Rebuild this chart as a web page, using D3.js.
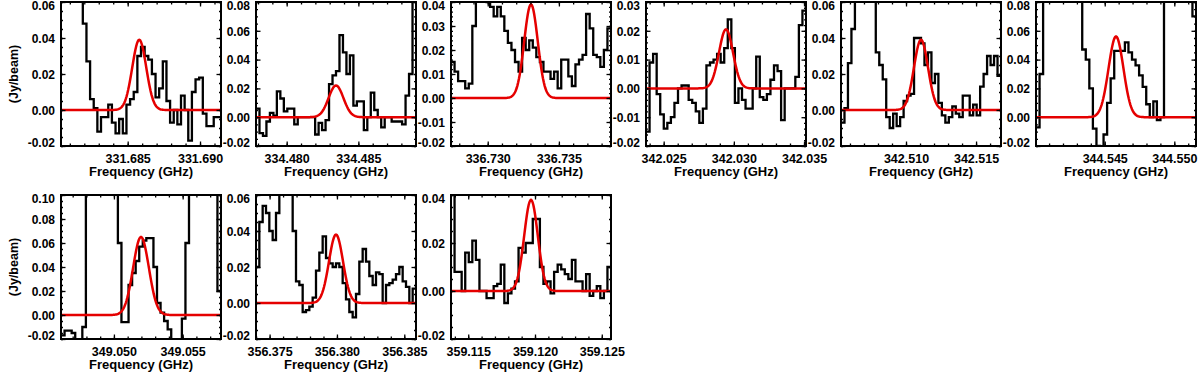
<!DOCTYPE html>
<html>
<head>
<meta charset="utf-8">
<script src="https://cdn.jsdelivr.net/npm/d3@7"></script>
<style>
    body { margin:0; background:#fff; }
    svg text { font-family:"Liberation Sans", Arial, Helvetica, sans-serif; font-weight:bold; fill:#000; }
</style>
</head>
<body>
<svg id="chart" width="1200" height="378"></svg>
<script>
//DATA
//frequency window of each panel (GHz)
const freqMin = [331.68039, 334.47786, 336.72742, 342.02374, 342.50536, 344.54006, 349.04615, 356.37399, 359.11371];
const freqMax = [331.69145, 334.48902, 336.73866, 342.03514, 342.51678, 344.55156, 349.05779, 356.38587, 359.12569];
const xTicks = [
    [331.685, 331.690],
    [334.480, 334.485],
    [336.730, 336.735],
    [342.025, 342.030, 342.035],
    [342.510, 342.515],
    [344.545, 344.550],
    [349.050, 349.055],
    [356.375, 356.380, 356.385],
    [359.115, 359.120, 359.125]
];
//flux axis (Jy/beam)
const yMin = [-0.02, -0.02, -0.02, -0.02, -0.02, -0.02, -0.02, -0.02, -0.02];
const yMax = [0.06, 0.08, 0.04, 0.03, 0.06, 0.08, 0.10, 0.06, 0.04];
const yStep = [0.02, 0.02, 0.01, 0.01, 0.02, 0.02, 0.02, 0.02, 0.02];

//gaussian fits (red)
const fitAmp = [0.039, 0.022, 0.039, 0.0205, 0.039, 0.056, 0.065, 0.038, 0.038];
const fitCenter = [331.68580, 334.48344, 336.73304, 342.02944, 342.51107, 344.54581, 349.05197, 356.37993, 359.11970];
const fitFwhm = [0.00114, 0.00122, 0.00112, 0.00118, 0.00118, 0.00126, 0.00135, 0.00123, 0.00120];

//observed spectra (black), channels spread evenly across each window
const spec1 = [0.09,0.1,0.1,0.09,0.08,0.07,0.048,0.027,0.006,0.001,-0.012,-0.004,-0.004,0.003,-0.007,-0.013,-0.005,-0.013,0.003,0.006,0.01,0.03,0.035,0.03,0.028,0.02,0.007,0.012,0.027,0.005,-0.007,0.0,-0.008,0.008,0.0,-0.017,0.01,0.017,0.018,-0.002,-0.009,-0.009,-0.004,-0.004];
const spec2 = [0.006,-0.011,-0.013,-0.003,0.003,0.001,0.018,0.013,0.004,0.006,0.006,-0.005,0.0,0.0,0.0,0.0,0.0,-0.012,-0.004,-0.009,-0.002,0.023,0.029,0.032,0.057,0.045,0.03,0.043,0.008,0.011,0.011,-0.009,0.0,0.017,0.005,0.0,-0.007,0.0,0.0,-0.003,-0.003,-0.003,-0.005,0.015,0.03,0.09];
const spec3 = [0.015,0.011,0.007,0.007,0.004,0.006,0.03,0.045,0.045,0.042,0.04,0.038,0.034,0.038,0.034,0.028,0.023,0.02,0.015,0.011,0.025,0.02,0.024,0.021,0.017,0.015,0.011,0.011,0.008,0.011,0.004,0.016,0.016,0.009,0.005,0.014,0.016,0.018,0.035,0.029,0.018,0.017,0.013,0.02,0.029];
const spec4 = [-0.015,0.009,0.012,-0.002,-0.009,-0.014,-0.012,-0.01,-0.005,0.0,0.001,0.001,-0.004,-0.005,-0.008,-0.012,-0.007,0.008,0.009,0.01,0.012,0.009,0.014,0.024,0.014,-0.005,0.0,-0.004,-0.007,-0.007,0.0,0.011,-0.003,-0.004,-0.002,0.003,0.008,0.006,-0.011,0.0,0.0,0.0,0.004,0.022,0.027];
const spec5 = [-0.007,0.001,0.026,0.045,0.08,0.09,0.1,0.1,0.09,0.08,0.032,0.025,0.017,-0.004,-0.01,-0.002,-0.009,-0.004,0.005,0.008,0.009,0.04,0.04,0.037,0.025,0.032,0.015,0.02,0.004,-0.003,-0.007,-0.004,0.002,-0.002,-0.004,0.008,0.008,-0.003,0.003,-0.003,0.013,0.02,0.03,0.025,0.03,0.019];
const spec6 = [-0.007,0.03,0.1,0.1,0.1,0.1,0.1,0.1,0.1,0.1,0.1,0.1,0.1,0.047,0.04,0.02,-0.008,-0.02,-0.021,-0.012,0.01,0.027,0.046,0.046,0.046,0.052,0.045,0.04,0.036,0.029,0.021,0.009,0.0,0.011,-0.002,0.0,0.1,0.1,0.1,0.1,0.1,0.1,0.1,0.1,0.07];
const spec7 = [-0.017,-0.013,-0.013,-0.015,-0.03,-0.03,-0.01,0.12,0.12,0.12,0.12,0.12,0.12,0.12,0.12,0.12,0.06,-0.006,-0.006,0.025,0.035,0.045,0.057,0.062,0.064,0.064,0.04,0.01,0.002,-0.005,-0.012,-0.03,-0.03,-0.03,-0.003,0.06,0.12,0.12,0.12,0.12,0.12,0.12,0.12,0.12,0.02];
const spec8 = [0.02,0.045,0.054,0.05,0.04,0.035,0.05,0.08,0.08,0.08,0.08,0.04,0.012,0.01,-0.005,-0.004,-0.002,0.003,0.018,0.028,0.037,0.025,0.022,0.02,0.022,0.02,0.011,0.002,-0.005,-0.008,0.005,0.023,0.03,0.023,0.015,0.01,0.017,0.016,0.0,0.01,0.011,0.013,0.016,0.02,0.012,0.009,0.0,0.008];
const spec9 = [0.06,0.008,0.008,0.0,0.016,0.012,0.021,0.013,0.0,0.0,-0.003,-0.003,0.002,0.003,0.011,-0.005,-0.001,0.001,0.004,0.018,0.016,0.02,0.02,0.03,0.03,0.01,0.003,0.004,-0.001,0.008,0.011,0.009,0.007,0.005,0.013,0.004,0.004,0.0,0.007,-0.002,0.0,0.002,-0.003,0.0,0.01];
const spectra = [spec1, spec2, spec3, spec4, spec5, spec6, spec7, spec8, spec9];

const xTitle = "Frequency (GHz)";
const yTitle = "(Jy/beam)";

//LAYOUT
const PANEL_W = 160;
const PANEL_H = 144;
const LEFT0 = 61;
const COL_STEP = 195;
const ROW_TOPS = [2, 195];
const PER_ROW = 6;
const RED = "#e50000";

const svg = d3.select("#chart");
svg.append("rect").attr("width", 1200).attr("height", 378).attr("fill", "#fff");

const fmtX = v => v.toFixed(3);
const fmtY = v => (Math.abs(v) < 1e-9 ? "0.00" : v.toFixed(2));

spectra.forEach((values, i) => {
    const row = Math.floor(i / PER_ROW);
    const col = i % PER_ROW;
    const left = LEFT0 + col * COL_STEP;
    const top = ROW_TOPS[row];

    const x = d3.scaleLinear().domain([freqMin[i], freqMax[i]]).range([0, PANEL_W]);
    const y = d3.scaleLinear().domain([yMin[i], yMax[i]]).range([PANEL_H, 0]);

    const g = svg.append("g")
        .attr("class", `panel panel-${i}`)
        .attr("transform", `translate(${left},${top})`);

    //clip
    const clipId = `clip-${i}`;
    g.append("clipPath").attr("id", clipId)
        .append("rect")
            .attr("width", PANEL_W)
            .attr("height", PANEL_H);

    const plotG = g.append("g").attr("clip-path", `url(#${clipId})`);

    //histogram - channels evenly over the window
    const dw = (freqMax[i] - freqMin[i]) / values.length;
    const stepPts = values.map((v, k) => [freqMin[i] + k * dw, v]);
    stepPts.push([freqMax[i], values[values.length - 1]]);
    const line = d3.line()
        .x(d => x(d[0]))
        .y(d => y(d[1]))
        .curve(d3.curveStepAfter);
    plotG.append("path")
        .datum(stepPts)
        .attr("fill", "none")
        .attr("stroke", "#000")
        .attr("stroke-width", 2.3)
        .attr("d", line);

    //gaussian fit
    const N = 200;
    const fitPts = d3.range(N + 1).map(j => {
        const f = freqMin[i] + j * (freqMax[i] - freqMin[i]) / N;
        const dx = f - fitCenter[i];
        return [f, fitAmp[i] * Math.exp(-4 * Math.LN2 * dx * dx / (fitFwhm[i] * fitFwhm[i]))];
    });
    plotG.append("path")
        .datum(fitPts)
        .attr("fill", "none")
        .attr("stroke", RED)
        .attr("stroke-width", 2.5)
        .attr("d", d3.line().x(d => x(d[0])).y(d => y(d[1])));

    //axes - inward ticks on all four sides
    const xMinor = d3.range(Math.ceil(freqMin[i] / 0.001 - 1e-6), Math.floor(freqMax[i] / 0.001 + 1e-6) + 1)
        .map(k => k * 0.001);
    const yMajor = d3.range(yMin[i], yMax[i] + yStep[i] / 2, yStep[i]);
    const yMinorStep = yStep[i] === 0.02 ? 0.005 : 0.002;
    const yMinor = d3.range(Math.round((yMax[i] - yMin[i]) / yMinorStep) + 1).map(k => yMin[i] + k * yMinorStep);

    const axisDefs = [
        { axis: d3.axisBottom(x).tickValues(xTicks[i]).tickSize(-4.5).tickPadding(8).tickFormat(fmtX), t: `translate(0,${PANEL_H})`, cls: "x-major" },
        { axis: d3.axisBottom(x).tickValues(xMinor).tickSize(-2.5).tickFormat(""), t: `translate(0,${PANEL_H})`, cls: "x-minor" },
        { axis: d3.axisTop(x).tickValues(xTicks[i]).tickSize(-4.5).tickFormat(""), t: null, cls: "x-top" },
        { axis: d3.axisTop(x).tickValues(xMinor).tickSize(-2.5).tickFormat(""), t: null, cls: "x-top-minor" },
        { axis: d3.axisLeft(y).tickValues(yMajor).tickSize(-4.5).tickPadding(6).tickFormat(fmtY), t: null, cls: "y-major" },
        { axis: d3.axisLeft(y).tickValues(yMinor).tickSize(-2).tickFormat(""), t: null, cls: "y-minor" },
        { axis: d3.axisRight(y).tickValues(yMajor).tickSize(-4.5).tickFormat(""), t: `translate(${PANEL_W},0)`, cls: "y-right" },
        { axis: d3.axisRight(y).tickValues(yMinor).tickSize(-2).tickFormat(""), t: `translate(${PANEL_W},0)`, cls: "y-right-minor" }
    ];
    axisDefs.forEach(a => {
        const ag = g.append("g").attr("class", a.cls).call(a.axis);
        if(a.t){ ag.attr("transform", a.t); }
        ag.select(".domain").remove();
        ag.selectAll("line").attr("stroke", "#000").attr("stroke-width", 1.3);
        ag.selectAll("text").attr("font-size", 12.5).attr("fill", "#000");
    });
    //y labels: end ones are pulled inside the frame height (as in the original)
    g.select(".y-major").selectAll(".tick text")
        .attr("font-size", 12)
        .attr("y", d => {
            const yc = Math.max(4, Math.min(PANEL_H - 3, y(d) + 0.5));
            return yc - y(d);
        });

    //frame
    g.append("rect")
        .attr("width", PANEL_W)
        .attr("height", PANEL_H)
        .attr("fill", "none")
        .attr("stroke", "#000")
        .attr("stroke-width", 2);

    //titles
    g.append("text")
        .attr("x", PANEL_W / 2)
        .attr("y", PANEL_H + 30)
        .attr("text-anchor", "middle")
        .attr("font-size", 13)
        .text(xTitle);

    if(col === 0){
        g.append("text")
            .attr("transform", `translate(${18 - left},${PANEL_H / 2}) rotate(-90)`)
            .attr("text-anchor", "middle")
            .attr("font-size", 12.5)
            .text(yTitle);
    }
});
</script>
</body>
</html>
